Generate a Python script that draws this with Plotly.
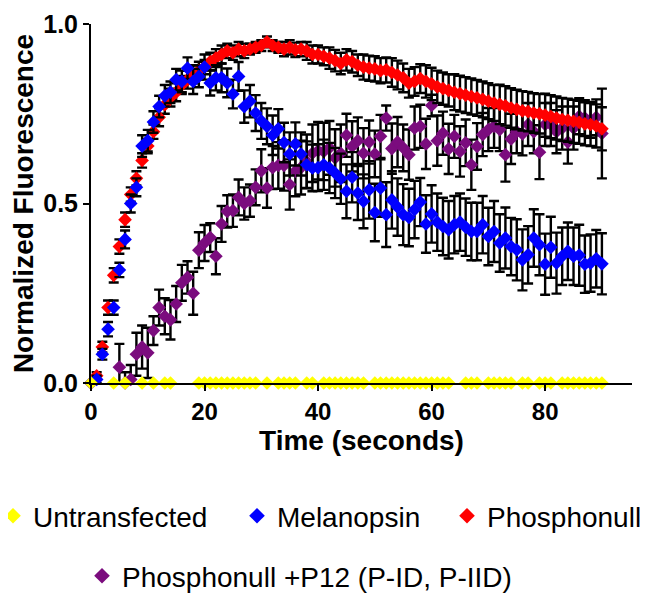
import plotly.graph_objects as go

# Time (seconds)
time_s = list(range(0, 91))

series_names = ["Untransfected", "Melanopsin", "Phosphonull", "Phosphonull +P12 (P-ID, P-IID)"]
series_colors = ["#FFFF00", "#0000FF", "#FF0000", "#7B0C7E"]

# Untransfected (None = not shown)
untransfected = [0.0, None, None, None, 0.0, None, 0.0, None, None, 0.0,
                 None, 0.0, None, 0.0, 0.0, None, None, None, None, 0.0,
                 0.0, 0.0, 0.0, 0.0, 0.0, 0.0, 0.0, 0.0, 0.0, 0.0,
                 None, 0.0, None, 0.0, 0.0, 0.0, 0.0, None, 0.0, 0.0,
                 None, 0.0, 0.0, 0.0, 0.0, 0.0, 0.0, 0.0, 0.0, None,
                 0.0, 0.0, 0.0, 0.0, 0.0, 0.0, 0.0, 0.0, 0.0, 0.0,
                 0.0, 0.0, 0.0, 0.0, None, None, 0.0, 0.0, 0.0, None,
                 0.0, 0.0, 0.0, 0.0, 0.0, None, 0.0, 0.0, None, 0.0,
                 0.0, 0.0, None, 0.0, 0.0, 0.0, 0.0, 0.0, 0.0, 0.0,
                 0.0]

melanopsin = [0.0, 0.01, 0.08, 0.15, 0.21, 0.315, 0.40, 0.50, 0.545, 0.66,
              0.675, 0.727, 0.77, 0.80, 0.81, 0.845, 0.84, 0.877, 0.84, 0.854,
              0.88, 0.836, 0.85, 0.85, 0.836, 0.805, 0.854, 0.77, 0.785, 0.752,
              0.73, 0.715, 0.69, 0.708, 0.67, 0.638, 0.666, 0.638, 0.608, 0.599,
              0.60, 0.608, 0.599, 0.585, 0.569, 0.534, 0.573, 0.529, 0.506, 0.538,
              0.475, 0.543, 0.469, 0.51, 0.49, 0.469, 0.461, 0.483, 0.504, 0.443,
              0.471, 0.448, 0.436, 0.427, 0.441, 0.448, 0.434, 0.422, 0.422, 0.441,
              0.408, 0.422, 0.39, 0.404, 0.38, 0.371, 0.343, 0.357, 0.404, 0.385,
              0.331, 0.378, 0.334, 0.353, 0.367, 0.353, 0.356, 0.331, 0.334, 0.346,
              0.332]
melanopsin_err = [0.0, 0.01, 0.015, 0.02, 0.02, 0.02, 0.025, 0.025, 0.025, 0.03,
                  0.03, 0.03, 0.03, 0.03, 0.03, 0.03, 0.03, 0.03, 0.035, 0.03,
                  0.035, 0.035, 0.035, 0.04, 0.04, 0.04, 0.04, 0.045, 0.045, 0.05,
                  0.05, 0.05, 0.055, 0.055, 0.055, 0.06, 0.06, 0.06, 0.065, 0.065,
                  0.065, 0.07, 0.07, 0.07, 0.07, 0.075, 0.07, 0.075, 0.075, 0.08,
                  0.08, 0.08, 0.09, 0.08, 0.08, 0.085, 0.08, 0.08, 0.067, 0.08,
                  0.08, 0.08, 0.08, 0.08, 0.08, 0.08, 0.08, 0.08, 0.08, 0.08,
                  0.08, 0.085, 0.08, 0.085, 0.08, 0.085, 0.085, 0.08, 0.08, 0.085,
                  0.085, 0.085, 0.085, 0.08, 0.08, 0.08, 0.085, 0.08, 0.08, 0.08,
                  0.085]

phosphonull = [0.0, 0.02, 0.10, 0.21, 0.30, 0.38, 0.455, 0.525, 0.57, 0.62,
               0.66, 0.70, 0.74, 0.775, 0.795, 0.81, 0.83, 0.845, 0.86, 0.87,
               0.88, 0.895, 0.905, 0.915, 0.925, 0.92, 0.93, 0.925, 0.93, 0.935,
               0.94, 0.95, 0.94, 0.935, 0.93, 0.935, 0.928, 0.93, 0.925, 0.915,
               0.915, 0.91, 0.905, 0.898, 0.89, 0.90, 0.895, 0.885, 0.88, 0.877,
               0.875, 0.87, 0.872, 0.865, 0.858, 0.85, 0.835, 0.84, 0.848, 0.84,
               0.833, 0.825, 0.82, 0.815, 0.81, 0.806, 0.802, 0.798, 0.794, 0.79,
               0.785, 0.78, 0.776, 0.772, 0.766, 0.762, 0.758, 0.756, 0.752, 0.75,
               0.746, 0.742, 0.738, 0.734, 0.732, 0.729, 0.726, 0.722, 0.72, 0.716,
               0.708]
phosphonull_err = [0.0, 0.01, 0.015, 0.02, 0.02, 0.02, 0.02, 0.02, 0.02, 0.02,
                   0.02, 0.02, 0.025, 0.025, 0.025, 0.025, 0.025, 0.025, 0.025, 0.025,
                   0.02, 0.025, 0.025, 0.025, 0.02, 0.02, 0.02, 0.02, 0.015, 0.015,
                   0.015, 0.015, 0.015, 0.015, 0.02, 0.02, 0.02, 0.02, 0.025, 0.025,
                   0.025, 0.025, 0.03, 0.03, 0.03, 0.03, 0.03, 0.03, 0.035, 0.035,
                   0.035, 0.035, 0.035, 0.04, 0.04, 0.04, 0.04, 0.04, 0.04, 0.045,
                   0.045, 0.045, 0.045, 0.045, 0.05, 0.05, 0.05, 0.05, 0.05, 0.05,
                   0.05, 0.05, 0.055, 0.055, 0.055, 0.055, 0.055, 0.055, 0.055, 0.055,
                   0.06, 0.06, 0.06, 0.06, 0.06, 0.06, 0.06, 0.06, 0.06, 0.06,
                   0.06]

p12 = [None, None, None, None, None, 0.044, 0.0, 0.01, 0.08, 0.10,
       0.084, 0.146, 0.21, 0.186, 0.176, 0.22, 0.279, 0.294, 0.25, 0.37,
       0.39, 0.405, 0.353, 0.443, 0.478, 0.48, 0.517, 0.50, 0.508, 0.545,
       0.591, 0.543, 0.60, 0.606, 0.606, 0.553, 0.59, 0.60, 0.617, 0.64,
       0.647, 0.645, 0.655, 0.627, 0.64, 0.69, 0.659, 0.675, 0.64, 0.671,
       0.638, 0.687, 0.738, 0.653, 0.671, 0.655, 0.636, 0.71, 0.715, 0.666,
       0.773, 0.675, 0.696, 0.652, 0.687, 0.645, 0.669, 0.608, 0.659, 0.692,
       0.706, 0.715, 0.706, 0.636, 0.68, 0.70, 0.694, 0.72, 0.70, 0.643,
       0.72, 0.72, 0.70, 0.71, 0.671, 0.71, 0.743, 0.738, 0.733, 0.74,
       0.695]
p12_err = [0.0, 0.0, 0.0, 0.0, 0.0, 0.065, 0.03, 0.04, 0.06, 0.06,
           0.07, 0.04, 0.05, 0.05, 0.055, 0.05, 0.05, 0.045, 0.06, 0.05,
           0.05, 0.04, 0.05, 0.05, 0.045, 0.045, 0.05, 0.045, 0.045, 0.05,
           0.06, 0.055, 0.06, 0.065, 0.07, 0.07, 0.07, 0.075, 0.075, 0.08,
           0.08, 0.08, 0.075, 0.08, 0.08, 0.06, 0.07, 0.065, 0.07, 0.06,
           0.065, 0.06, 0.035, 0.07, 0.07, 0.065, 0.07, 0.06, 0.06, 0.07,
           0.03, 0.07, 0.06, 0.07, 0.06, 0.07, 0.065, 0.07, 0.065, 0.06,
           0.06, 0.06, 0.06, 0.075, 0.07, 0.06, 0.06, 0.06, 0.06, 0.075,
           0.06, 0.06, 0.06, 0.06, 0.06, 0.06, 0.05, 0.05, 0.05, 0.05,
           0.125]

x_tickvals = [0, 20, 40, 60, 80]
y_tickvals = [0.0, 0.5, 1.0]
y_ticktext = ["0.0", "0.5", "1.0"]

FONT = "Liberation Sans, Arial, sans-serif"

fig = go.Figure()

def add_series(name, y, err, color, legend_id):
    err_cfg = dict(type="data", array=err, visible=True, color="black",
                   thickness=2.4, width=5) if err is not None else dict(visible=False)
    fig.add_trace(go.Scatter(
        x=time_s, y=y, mode="markers", name=name,
        marker=dict(symbol="diamond", size=10.5, color=color, line=dict(width=0)),
        error_y=err_cfg, cliponaxis=False, legend=legend_id,
    ))

# draw order: purple bottom, then red, blue, yellow
add_series(series_names[3], p12, p12_err, series_colors[3], "legend4")
add_series(series_names[2], phosphonull, phosphonull_err, series_colors[2], "legend3")
add_series(series_names[1], melanopsin, melanopsin_err, series_colors[1], "legend2")
add_series(series_names[0], untransfected, None, series_colors[0], "legend")

L, R, T, B = 83, 26, 16, 227
W, H = 650, 602
pw = W - L - R
ph = H - T - B

def px_x(px):
    return (px - L) / pw

def px_y(py):
    return (H - B - py) / ph

leg_common = dict(font=dict(family=FONT, size=28, color="black"),
                  bgcolor="rgba(0,0,0,0)", borderwidth=0,
                  xref="paper", yref="paper", xanchor="left", yanchor="middle",
                  itemsizing="constant")

fig.update_layout(
    width=W, height=H,
    margin=dict(l=L, r=R, t=T, b=B, autoexpand=False),
    paper_bgcolor="white", plot_bgcolor="white",
    font=dict(family=FONT, color="black"),
    showlegend=True,
    legend=dict(x=px_x(-15), y=px_y(508), **leg_common),
    legend2=dict(x=px_x(229), y=px_y(508), **leg_common),
    legend3=dict(x=px_x(439), y=px_y(508), **leg_common),
    legend4=dict(x=px_x(74), y=px_y(568), **leg_common),
    xaxis=dict(
        range=[0, 95.3], tickvals=x_tickvals, showgrid=False, zeroline=False,
        showline=True, linecolor="black", linewidth=2,
        ticks="outside", ticklen=6, tickwidth=2, tickcolor="black",
        tickfont=dict(family=FONT, size=24, color="black", weight="bold"),
        title=dict(text="Time (seconds)", standoff=3,
                   font=dict(family=FONT, size=28, color="black", weight="bold")),
        automargin=False,
    ),
    yaxis=dict(
        range=[0, 1.0], tickvals=y_tickvals, ticktext=y_ticktext,
        showgrid=False, zeroline=False,
        showline=True, linecolor="black", linewidth=2,
        ticks="outside", ticklen=6, tickwidth=2, tickcolor="black",
        tickfont=dict(family=FONT, size=25, color="black", weight="bold"),
        title=dict(text="Normalized Fluorescence", standoff=6,
                   font=dict(family=FONT, size=28, color="black", weight="bold")),
        automargin=False,
    ),
)

fig.write_html("out.html")
